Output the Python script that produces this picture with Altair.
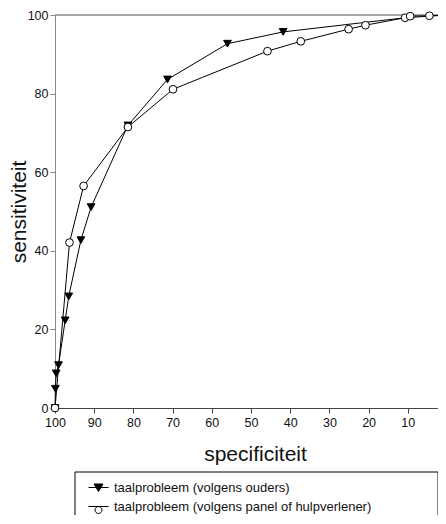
import altair as alt
import pandas as pd

series_names = ["taalprobleem (volgens ouders)", "taalprobleem (volgens panel of hulpverlener)"]

spec_ouders = [100, 99.9, 99.7, 99.1, 97.4, 96.5, 93.4, 90.8, 81.4, 71.3, 56.0, 41.8, 10.7, 0]
sens_ouders = [0, 4.9, 8.8, 10.9, 22.3, 28.4, 42.7, 51.1, 71.9, 83.6, 92.7, 95.7, 99.3, 100]
marker_ouders = [True] * 12 + [False, False]

spec_panel = [100, 96.3, 92.7, 81.4, 69.9, 45.8, 37.3, 25.1, 20.8, 10.7, 9.4, 4.5, 0]
sens_panel = [0, 42.1, 56.5, 71.5, 81.1, 90.8, 93.3, 96.4, 97.4, 99.3, 99.7, 99.8, 100]
marker_panel = [True] * 13

x_ticks = [100, 90, 80, 70, 60, 50, 40, 30, 20, 10, 0]
y_ticks = [0, 20, 40, 60, 80, 100]

rows = []
for i, (s, v, m) in enumerate(zip(spec_ouders, sens_ouders, marker_ouders)):
    rows.append({"series": series_names[0], "spec": s, "sens": v, "order": i, "marker": m})
for i, (s, v, m) in enumerate(zip(spec_panel, sens_panel, marker_panel)):
    rows.append({"series": series_names[1], "spec": s, "sens": v, "order": i, "marker": m})
df = pd.DataFrame(rows)

FONT = "Liberation Sans"
W, H = 383, 393
# the original picture is cropped at the right edge, just past specificiteit 0
X_VISIBLE_MIN = 2.3

x_enc = alt.X(
    "spec:Q",
    scale=alt.Scale(domain=[X_VISIBLE_MIN, 100], reverse=True, nice=False, zero=False),
    axis=alt.Axis(
        values=x_ticks, title="specificiteit", grid=False,
        domainColor="#444", tickColor="#444", tickSize=5,
        labelFont=FONT, labelFontSize=12.5, labelColor="#111", labelPadding=3,
        titleFont=FONT, titleFontSize=21, titleFontWeight="normal", titleColor="#111",
        titleBaseline="alphabetic", titleY=52, titleX=200, labelFlush=False, labelOverlap=False,
    ),
)
y_enc = alt.Y(
    "sens:Q",
    scale=alt.Scale(domain=[0, 100], nice=False, zero=False),
    axis=alt.Axis(
        values=y_ticks, title="sensitiviteit", grid=False,
        domainColor="#888", tickColor="#888", tickSize=5,
        labelFont=FONT, labelFontSize=12.5, labelColor="#111", labelPadding=2,
        titleFont=FONT, titleFontSize=21, titleFontWeight="normal", titleColor="#111",
        titleBaseline="alphabetic", titleX=-30, labelFlush=False, labelOverlap=False,
    ),
)

base = alt.Chart(df)

lines = base.mark_line(color="black", strokeWidth=1).encode(
    x=x_enc, y=y_enc, detail="series:N", order="order:Q"
)

points = base.transform_filter("datum.marker").mark_point(
    filled=True, stroke="black", strokeWidth=1, size=60, opacity=1
).encode(
    x=x_enc, y=y_enc,
    shape=alt.Shape("series:N", scale=alt.Scale(domain=series_names, range=["triangle-down", "circle"]), legend=None),
    fill=alt.Fill("series:N", scale=alt.Scale(domain=series_names, range=["black", "white"]), legend=None),
)

TRI = "M-1,0H1M-0.45,-0.35L0.45,-0.35L0,0.4Z"
CIRC = "M-1,0H1M0.35,0.35A0.35,0.35 0 1 1 -0.35,0.35A0.35,0.35 0 1 1 0.35,0.35Z"

leg = alt.Legend(
    orient="none", legendX=33, legendY=462, title=None, padding=0,
    labelFont=FONT, labelFontSize=13, labelColor="#111", labelOffset=5, labelLimit=400,
    symbolSize=400, symbolStrokeColor="black", symbolStrokeWidth=1, symbolOpacity=1,
    rowPadding=1,
)

legend_layer = base.transform_filter("datum.spec > 1000").mark_point(
    filled=True, strokeWidth=1, opacity=1
).encode(
    x=x_enc, y=y_enc,
    shape=alt.Shape("series:N", scale=alt.Scale(domain=series_names, range=[TRI, CIRC]), legend=leg),
    fill=alt.Fill("series:N", scale=alt.Scale(domain=series_names, range=["black", "white"]), legend=leg),
    stroke=alt.Stroke("series:N", scale=alt.Scale(domain=series_names, range=["black", "black"]), legend=leg),
)

top_rule = alt.Chart(pd.DataFrame({"v": [100]})).mark_rule(color="#888", strokeWidth=1.5).encode(
    y=alt.Y("v:Q")
)

box = alt.Chart(pd.DataFrame({"a": [0]})).mark_rect(
    fill="white", stroke="black", strokeWidth=1
).encode(
    x=alt.value(20), x2=alt.value(383), y=alt.value(457), y2=alt.value(530)
)

chart = alt.layer(box, top_rule, lines, points, legend_layer).resolve_scale(
    shape="independent", fill="independent", stroke="independent"
).resolve_legend(shape="independent", fill="independent", stroke="independent").properties(
    width=W, height=H,
    autosize=alt.AutoSizeParams(type="none"),
    padding={"left": 47, "top": 7, "right": 0, "bottom": 107},
).configure_view(stroke=None)

chart.save("out.html", embed_options={"renderer": "svg", "actions": False})
